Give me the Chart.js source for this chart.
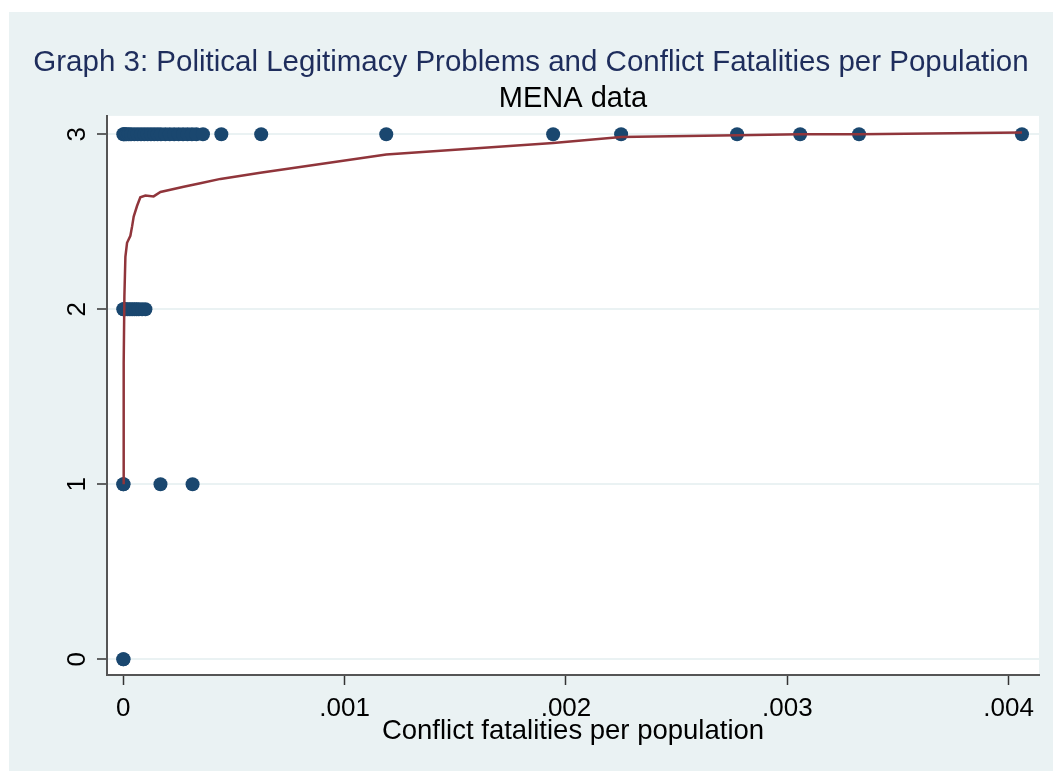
<!DOCTYPE html>
<html>
<head>
<meta charset="utf-8">
<title>Graph 3</title>
<script src="https://cdn.jsdelivr.net/npm/chart.js@4.4.0/dist/chart.umd.min.js"></script>
<style>
  html, body { margin: 0; padding: 0; background: #ffffff; }
  #panel {
    position: absolute; left: 9px; top: 12px;
    width: 1044px; height: 759px;
    background: #eaf2f3;
  }
</style>
</head>
<body>
<div id="panel"><canvas id="legitChart"></canvas></div>
<script>
// conflict fatalities per population, grouped by legitimacy problem score
const fatalitiesAt3 = [0, 0.000003, 0.000008, 0.000015, 0.000025, 0.000035, 0.00005, 0.000065,
  0.00008, 0.000095, 0.00011, 0.000125, 0.00014, 0.000155, 0.00017, 0.00019, 0.00021,
  0.00023, 0.00025, 0.00027, 0.00029, 0.00031, 0.00033, 0.00036,
  0.000443, 0.000623, 0.001188, 0.001942, 0.002249, 0.002773, 0.003058, 0.003324, 0.00406];
const fatalitiesAt2 = [0, 0.000002, 0.000005, 0.00001, 0.00002, 0.00003, 0.00004, 0.00005,
  0.00006, 0.00007, 0.000085, 0.0001];
const fatalitiesAt1 = [0, 0.000001, 0.000168, 0.000313];
const fatalitiesAt0 = [0, 0.000001];

// smoothed fit line
const fitX = [0.0000018, 0.0000018, 0.000005, 0.0000095, 0.000017, 0.000032, 0.00004, 0.000047,
  0.000062, 0.000077, 0.0001, 0.000137, 0.000168, 0.000273, 0.000348, 0.000439, 0.000619,
  0.001188, 0.001942, 0.002249, 0.002773, 0.003058, 0.003324, 0.00406];
const fitY = [1.0, 1.69, 2.075, 2.30, 2.38, 2.42, 2.475, 2.53,
  2.59, 2.64, 2.65, 2.645, 2.67, 2.70, 2.72, 2.745, 2.78,
  2.885, 2.95, 2.985, 2.995, 3.0, 3.0, 3.01];

const xTicks = [0, 0.001, 0.002, 0.003, 0.004];
const xTickLabels = ['0', '.001', '.002', '.003', '.004'];
const yTicks = [0, 1, 2, 3];
const yTickLabels = ['0', '1', '2', '3'];

const FONT = "'Liberation Sans', Arial, sans-serif";

const scatterPoints = [];
[[fatalitiesAt0, 0], [fatalitiesAt1, 1], [fatalitiesAt2, 2], [fatalitiesAt3, 3]].forEach(function(g) {
  g[0].forEach(function(x) { scatterPoints.push({ x: x, y: g[1] }); });
});
const fitPoints = fitX.map(function(x, i) { return { x: x, y: fitY[i] }; });

// white plot region, subtitle over the plot and rotated y labels like Stata
const plotDecor = {
  id: 'plotDecor',
  beforeDraw(chart) {
    const a = chart.chartArea, c = chart.ctx;
    c.save();
    c.fillStyle = '#ffffff';
    c.fillRect(a.left, a.top, a.right - a.left, a.bottom - a.top);
    c.restore();
  },
  afterDraw(chart) {
    const a = chart.chartArea, c = chart.ctx, ys = chart.scales.y;
    c.save();
    c.fillStyle = '#000000';
    c.textAlign = 'center';
    c.textBaseline = 'middle';
    c.font = '29px ' + FONT;
    c.fillText('MENA data', (a.left + a.right) / 2, 87);
    c.font = '26px ' + FONT;
    yTicks.forEach(function(v, i) {
      c.save();
      c.translate(69, ys.getPixelForValue(v));
      c.rotate(-Math.PI / 2);
      c.fillText(yTickLabels[i], 0, 0);
      c.restore();
    });
    c.restore();
  }
};

new Chart(document.getElementById('legitChart'), {
  type: 'scatter',
  data: {
    datasets: [
      {
        type: 'line',
        data: fitPoints,
        borderColor: '#90353b',
        borderWidth: 2.5,
        pointRadius: 0,
        tension: 0,
        fill: false,
        order: 0
      },
      {
        data: scatterPoints,
        backgroundColor: '#1a476f',
        borderColor: '#1a476f',
        pointRadius: 7,
        borderWidth: 0,
        order: 1
      }
    ]
  },
  options: {
    responsive: true,
    maintainAspectRatio: false,
    animation: false,
    layout: { padding: { left: 14, right: 14, top: 0, bottom: 0 } },
    plugins: {
      legend: { display: false },
      tooltip: { enabled: false },
      title: {
        display: true,
        text: 'Graph 3: Political Legitimacy Problems and Conflict Fatalities per Population',
        color: '#1e2d5c',
        font: { family: FONT, size: 29.5, weight: 'normal' },
        padding: { top: 33, bottom: 35.5 }
      }
    },
    scales: {
      x: {
        type: 'linear',
        min: -0.0000736,
        max: 0.004137,
        afterBuildTicks(s) { s.ticks = xTicks.map(function(v) { return { value: v }; }); },
        afterFit(s) { s.height = 96; },
        ticks: {
          color: '#000000',
          font: { family: FONT, size: 26 },
          padding: 8,
          maxRotation: 0,
          autoSkip: false,
          callback(v) { const i = xTicks.indexOf(v); return i >= 0 ? xTickLabels[i] : ''; }
        },
        grid: { drawOnChartArea: false, drawTicks: true, tickLength: 10, tickColor: '#333333', tickWidth: 1.5 },
        border: { display: true, color: '#555555', width: 2 },
        title: {
          display: true,
          text: 'Conflict fatalities per population',
          color: '#000000',
          font: { family: FONT, size: 27.5 },
          padding: { top: 0, bottom: 23 }
        }
      },
      y: {
        type: 'linear',
        min: -0.09,
        max: 3.105,
        afterBuildTicks(s) { s.ticks = yTicks.map(function(v) { return { value: v }; }); },
        afterFit(s) { s.width = 84; },
        ticks: { display: false },
        grid: { color: '#eaf2f3', lineWidth: 2, drawTicks: true, tickLength: 10, tickColor: '#333333', tickWidth: 1.5 },
        border: { display: true, color: '#555555', width: 2 }
      }
    }
  },
  plugins: [plotDecor]
});
</script>
</body>
</html>
